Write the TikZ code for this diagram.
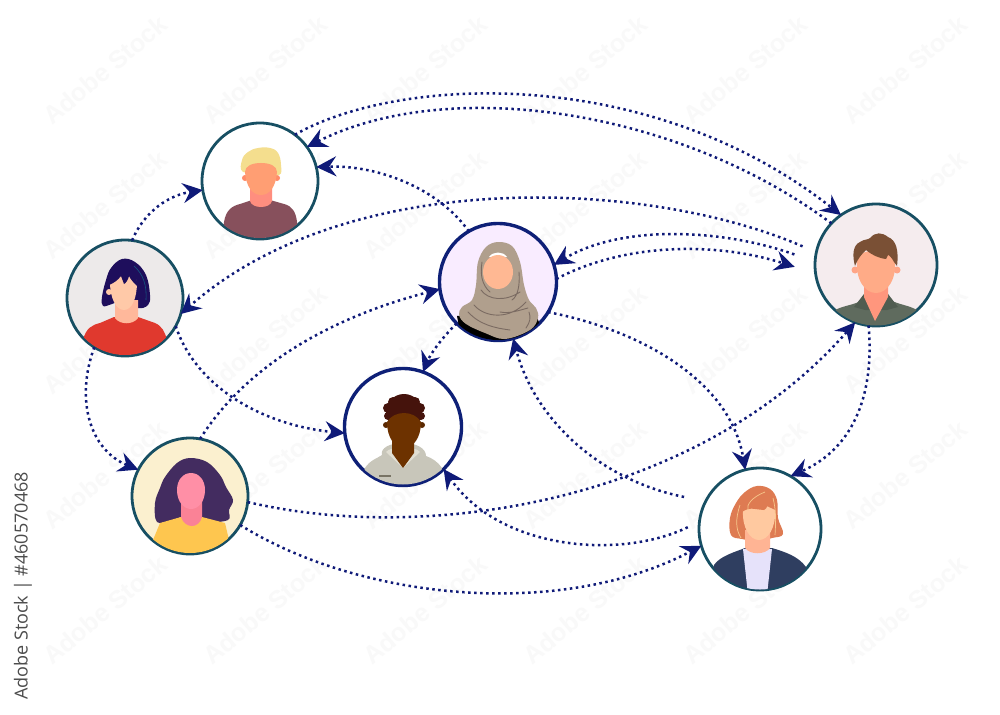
\documentclass[tikz,border=0pt]{standalone}
\usepackage{fontspec}
\setmainfont{Open Sans}
\newfontfamily\wmfont{Liberation Sans}
\usetikzlibrary{arrows.meta}
\definecolor{arrowblue}{HTML}{0F1A78}
\definecolor{ringteal}{HTML}{174F63}
\definecolor{navyring}{HTML}{0E2077}
\definecolor{wm}{HTML}{F9F9F9}
\definecolor{bgB}{HTML}{EDEAEA}
\definecolor{bgC}{HTML}{F9ECFF}
\definecolor{bgD}{HTML}{F5ECEE}
\definecolor{bgF}{HTML}{FBF0CF}
\definecolor{aShirt}{HTML}{87505C}
\definecolor{aNeck}{HTML}{FF8E7F}
\definecolor{aEar}{HTML}{FF8C69}
\definecolor{aHair}{HTML}{F4DE8E}
\definecolor{aFace}{HTML}{FF9E73}
\definecolor{bHair}{HTML}{1E0E5C}
\definecolor{bShirt}{HTML}{E0392E}
\definecolor{bNeck}{HTML}{FFB89B}
\definecolor{bFace}{HTML}{FFC9A8}
\definecolor{bStreak}{HTML}{145A82}
\definecolor{cHijab}{HTML}{B09F8D}
\definecolor{cFold}{HTML}{7B6B62}
\definecolor{cFace}{HTML}{FFB893}
\definecolor{dShirt}{HTML}{5F6B5E}
\definecolor{dCollar}{HTML}{505C50}
\definecolor{dNeck}{HTML}{FF967D}
\definecolor{dEar}{HTML}{FFA587}
\definecolor{dFace}{HTML}{FFAB87}
\definecolor{dHair}{HTML}{7A5035}
\definecolor{eHood}{HTML}{C8C6BA}
\definecolor{eHoodIn}{HTML}{E1DED2}
\definecolor{ePocket}{HTML}{787364}
\definecolor{eSkin}{HTML}{6D3200}
\definecolor{eEar}{HTML}{5A2800}
\definecolor{eHair}{HTML}{45130C}
\definecolor{fHair}{HTML}{432C60}
\definecolor{fShirt}{HTML}{FEC64F}
\definecolor{fNeck}{HTML}{FA8296}
\definecolor{fFace}{HTML}{FF8FA6}
\definecolor{gHair}{HTML}{DE7B52}
\definecolor{gBlazer}{HTML}{2F3E60}
\definecolor{gBlouse}{HTML}{E6E2FA}
\definecolor{gNeck}{HTML}{FFB494}
\definecolor{gFace}{HTML}{FFC9A0}
\definecolor{gStreak}{HTML}{F7C88C}
\tikzset{
  person/.style={circle,draw=ringteal,line width=2.8pt,inner sep=0pt,outer sep=0pt,minimum size=#1},
  navyperson/.style={person=#1,draw=navyring,line width=3.4pt},
  link/.style={draw=arrowblue,line width=2.5pt,dash pattern=on 2.5pt off 3.5pt,
     -{Stealth[length=20pt,width=20pt,inset=7pt,fill=arrowblue,color=arrowblue]}},
  wmark/.style={rotate=40,text=wm,font=\wmfont\bfseries\fontsize{25}{25}\selectfont}
}
\begin{document}
\begin{tikzpicture}[x=1pt,y=-1pt]
\useasboundingbox (0,0) rectangle (1000,714);
\fill[white] (0,0) rectangle (1000,714);
% watermark
\foreach \wx in {105,265,425,585,745,905}{
  \foreach \wy in {70,205,340,475,610}{
    \node[wmark] (w\wx x\wy) at (\wx,\wy) {Adobe Stock};
  }
}
\node[rotate=90,anchor=center,text=black!70,font=\fontsize{18}{18}\selectfont] (stock) at (23,586) {Adobe Stock | \#460570468};

% circles
\node[person=116pt,fill=white] (A) at (260,181) {};
\node[person=116pt,fill=bgB] (B) at (125,298) {};
\node[navyperson=117pt,fill=bgC] (C) at (498,282) {};
\node[person=122pt,fill=bgD] (D) at (876,265) {};
\node[navyperson=117pt,fill=white] (E) at (403,427) {};
\node[person=116pt,fill=bgF] (F) at (190,496) {};
\node[person=122pt,fill=white] (G) at (760,529) {};

% A blond man
\begin{scope}
\clip (260,181) circle [radius=57];
\fill[aShirt] (222,242) -- (224,222) .. controls (226,210) and (232,206) .. (240,204) -- (252,200) -- (270,200) -- (284,204) .. controls (292,206) and (296,212) .. (297,222) -- (300,242) -- cycle;
\fill[aNeck] (250,185) -- (250,201) .. controls (252,209) and (270,209) .. (272,201) -- (272,185) -- cycle;
\fill[aEar] (245,178) circle [radius=3] (277,178) circle [radius=3];
\fill[aHair] plot[smooth cycle,tension=.7] coordinates {(243,172)(242,160)(248,152)(258,148)(270,148)(278,153)(281,165)(279,175)(262,172)};
\fill[aFace] (245,172) .. controls (246,186) and (252,195) .. (261,195) .. controls (270,195) and (276,186) .. (277,172) .. controls (277,166) and (270,163) .. (261,163) .. controls (252,163) and (245,166) .. (245,172) -- cycle;
\end{scope}

% B woman red shirt
\begin{scope}
\clip (125,298) circle [radius=57];
\fill[bHair] plot[smooth cycle,tension=.65] coordinates {(111,268)(122,259)(135,262)(146,275)(150,295)(148,305)(138,308)(125,300)(112,304)(103,306)(102,297)(106,280)};
\fill[bShirt] (78,362) -- (83,340) .. controls (86,328) and (92,325) .. (100,323) -- (114,317) -- (138,317) -- (155,323) .. controls (162,326) and (165,332) .. (167,340) -- (172,362) -- cycle;
\fill[bNeck] (115,300) -- (115,318) .. controls (120,325) and (133,325) .. (138,318) -- (138,300) -- cycle;
\fill[bFace] (109,292) circle [radius=3];
\fill[bFace] (110,282) .. controls (110,298) and (116,310) .. (124,310) .. controls (132,310) and (137,298) .. (137,282) .. controls (137,274) and (112,272) .. (110,282) -- cycle;
\fill[bHair] (109,285) .. controls (110,273) and (120,268) .. (128,270) .. controls (134,272) and (138,280) .. (138,287) .. controls (134,283) and (131,280) .. (129,276) .. controls (128,280) and (126,283) .. (124,284) .. controls (123,281) and (122,279) .. (121,276) .. controls (118,280) and (114,283) .. (109,285) -- cycle;
\draw[bStreak,line width=.6pt] (134,266) .. controls (143,274) and (147,285) .. (146,300);
\end{scope}

% C hijab woman
\begin{scope}
\clip (498,282) circle [radius=58];
\fill[black] (457,316) -- (460,332) -- (490,345) -- (530,345) -- (541,328) -- (536,314) -- cycle;
\fill[cHijab] plot[smooth cycle,tension=.6] coordinates {(498,242)(512,246)(520,262)(524,285)(529,300)(536,308)(538,318)(530,330)(505,339)(485,333)(466,324)(459,315)(462,307)(472,300)(476,285)(478,262)(486,247)};
\draw[cFold,line width=.9pt,line cap=round]
  (481,290) .. controls (488,300) and (505,302) .. (520,292)
  (474,305) .. controls (485,318) and (510,320) .. (526,302)
  (468,312) .. controls (480,325) and (495,328) .. (510,330)
  (512,300) .. controls (518,296) and (520,285) .. (519,272)
  (482,262) .. controls (480,275) and (482,285) .. (490,292)
  (500,312) .. controls (510,314) and (520,310) .. (528,308)
  (529,312) .. controls (531,318) and (530,322) .. (526,328);
\fill[white] (489,257) .. controls (493,251) and (503,251) .. (507,257) -- cycle;
\fill[cFace] (498,272) ellipse [x radius=15,y radius=17];
\end{scope}

% D man
\begin{scope}
\clip (876,265) circle [radius=60.5];
\fill[dShirt] (830,330) -- (835,310) .. controls (845,305) and (855,305) .. (862,300) -- (890,300) .. controls (900,305) and (908,305) .. (917,310) -- (922,330) -- cycle;
\fill[dCollar] (854,307) -- (867,290) -- (876,310) -- (865,310) -- cycle (898,307) -- (885,290) -- (876,310) -- (887,310) -- cycle;
\fill[dNeck] (864,285) -- (888,285) -- (888,297) -- (875,321) -- (864,297) -- cycle;
\fill[dEar] (855,270) circle [radius=3.5] (897,270) circle [radius=3.5];
\fill[dFace] (857,258) .. controls (855,280) and (865,293) .. (876,293) .. controls (887,293) and (897,280) .. (895,258) .. controls (890,248) and (862,248) .. (857,258) -- cycle;
\fill[dHair] (855,266) .. controls (852,255) and (853,245) .. (860,242) .. controls (864,239) and (868,240) .. (870,238) .. controls (875,232) and (882,232) .. (888,237) .. controls (896,240) and (899,250) .. (897,266) -- (894,262) .. controls (892,258) and (889,255) .. (888,255) -- (886,259) .. controls (878,258) and (872,255) .. (866,250) .. controls (862,254) and (858,258) .. (855,266) -- cycle;
\end{scope}

% E hoodie man
\begin{scope}
\clip (403,427) circle [radius=57.5];
\fill[eHood] (360,490) -- (365,468) .. controls (370,460) and (378,458) .. (382,455) .. controls (380,448) and (390,443) .. (403,443) .. controls (416,443) and (426,448) .. (426,456) .. controls (432,458) and (438,462) .. (442,468) -- (447,490) -- cycle;
\fill[eHoodIn] (386,452) .. controls (390,446) and (416,446) .. (420,452) -- (403,468) -- cycle;
\draw[ePocket,line width=1.2pt] (379,476) -- (391,476);
\fill[eSkin] (392,440) -- (414,440) -- (414,453) -- (403,468) -- (392,453) -- cycle;
\fill[eEar] (386,425) circle [radius=3] (422,425) circle [radius=3];
\fill[eHair] (388,408) circle [radius=5] (393,402) circle [radius=5] (400,399) circle [radius=4.5] (408,399) circle [radius=4.5] (415,402) circle [radius=5] (420,408) circle [radius=5] (388,416) circle [radius=4] (421,416) circle [radius=4] (404,412) circle [radius=18];
\fill[eSkin] (387,422) .. controls (387,438) and (395,448) .. (404,448) .. controls (413,448) and (421,438) .. (421,422) .. controls (414,410) and (394,410) .. (387,422) -- cycle;
\end{scope}

% F curly woman
\begin{scope}
\clip (190,496) circle [radius=57];
\fill[fHair] plot[smooth cycle,tension=.6] coordinates {(177,463)(190,458)(207,462)(220,475)(226,487)(233,500)(229,510)(228,520)(205,522)(190,515)(172,520)(157,522)(155,503)(160,488)(165,477)};
\fill[fShirt] (150,560) -- (153,540) -- (160,523) -- (181,517) .. controls (185,525) and (197,525) .. (202,517) -- (225,523) -- (229,540) -- (232,560) -- cycle;
\fill[fNeck] (181,500) -- (181,517) .. controls (185,529) and (199,529) .. (202,517) -- (202,500) -- cycle;
\fill[fFace] (177,490) .. controls (177,502) and (184,509) .. (191,509) .. controls (198,509) and (205,502) .. (205,490) .. controls (205,480) and (199,473) .. (191,473) .. controls (183,473) and (177,480) .. (177,490) -- cycle;
\end{scope}

% G red-haired woman
\begin{scope}
\clip (760,529) circle [radius=60.5];
\fill[gHair] plot[smooth cycle,tension=.65] coordinates {(745,492)(757,486)(770,489)(777,500)(778,518)(783,534)(772,538)(758,541)(742,539)(731,535)(730,518)(736,503)};
\fill[gBlazer] (708,600) -- (714,565) .. controls (720,556) and (735,552) .. (745,548) -- (772,548) .. controls (785,552) and (798,556) .. (806,567) -- (812,600) -- cycle;
\fill[gBlouse] (743,549) -- (772,549) -- (767,595) -- (748,595) -- cycle;
\fill[gNeck] (745,530) -- (745,548) .. controls (750,555) and (765,555) .. (770,548) -- (770,530) -- cycle;
\fill[gFace] (743,510) .. controls (742,528) and (750,540) .. (759,540) .. controls (768,540) and (776,528) .. (775,510) -- (760,503) -- cycle;
\fill[gHair] (742,512) .. controls (745,500) and (755,495) .. (767,497) .. controls (770,502) and (767,509) .. (764,510) .. controls (757,510) and (750,506) .. (742,512) -- cycle;
\draw[gStreak,line width=.7pt] (740,505) .. controls (735,520) and (736,530) .. (741,538) (765,492) .. controls (752,497) and (746,505) .. (748,510) (773,498) .. controls (776,510) and (776,520) .. (775,535);
\end{scope}

% connectors
\draw[link] (B.83) .. controls (145,210) and (170,195) .. (A.189);
\draw[link] (A.53) .. controls (400,75) and (650,65) .. (D.125);
\draw[link] (D.137) .. controls (680,110) and (450,75) .. (A.36);
\draw[link] (C.120) .. controls (440,190) and (380,165) .. (A.14);
\draw[link,shorten <=15pt] (D.168) .. controls (650,180) and (350,165) .. (B.-16);
\draw[link,shorten <=22pt] (D.177) .. controls (720,228) and (620,225) .. (C.17);
\draw[link,shorten >=22pt] (C.3) .. controls (620,245) and (710,240) .. (D.188);
\draw[link] (C.225) .. controls (440,340) and (430,355) .. (E.70);
\draw[link] (C.-31) .. controls (640,330) and (730,380) .. (G.104);
\draw[link,shorten <=22pt] (G.153) .. controls (600,480) and (535,420) .. (C.285);
\draw[link,shorten <=13pt] (G.173) .. controls (620,560) and (500,550) .. (E.-46);
\draw[link] (F.80) .. controls (250,360) and (340,315) .. (C.187);
\draw[link] (B.-29) .. controls (195,385) and (260,425) .. (E.186);
\draw[link] (B.238) .. controls (75,400) and (90,450) .. (F.153);
\draw[link] (F.-6) .. controls (430,545) and (700,500) .. (D.250);
\draw[link] (F.-30) .. controls (360,600) and (560,620) .. (G.196);
\draw[link] (D.263) .. controls (875,400) and (850,450) .. (G.60);
\end{tikzpicture}
\end{document}
